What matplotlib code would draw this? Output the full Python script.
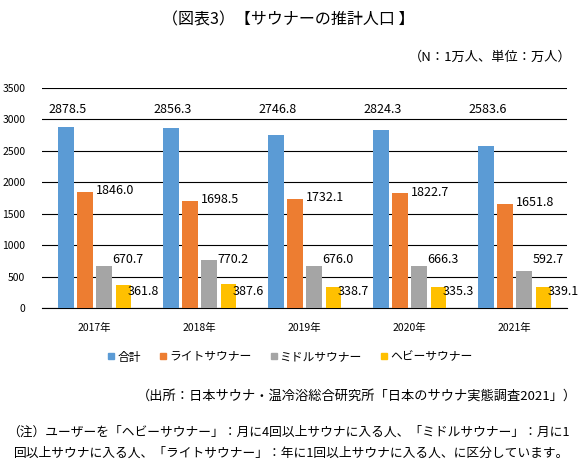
import matplotlib
matplotlib.use("Agg")
import matplotlib.pyplot as plt
from matplotlib.lines import Line2D
import numpy as np

plt.rcParams['font.family'] = ['Noto Sans CJK JP', 'DejaVu Sans']

years = ["2017年", "2018年", "2019年", "2020年", "2021年"]
series_names = ["合計", "ライトサウナー", "ミドルサウナー", "ヘビーサウナー"]
total = [2878.5, 2856.3, 2746.8, 2824.3, 2583.6]
light = [1846.0, 1698.5, 1732.1, 1822.7, 1651.8]
middle = [670.7, 770.2, 676.0, 666.3, 592.7]
heavy = [361.8, 387.6, 338.7, 335.3, 339.1]
yticks = [0, 500, 1000, 1500, 2000, 2500, 3000, 3500]

colors = ["#5B9BD5", "#ED7D31", "#A5A5A5", "#FFC000"]

W, H = 584, 475
fig = plt.figure(figsize=(W / 100, H / 100), dpi=100)
ax = fig.add_axes([42 / W, 1 - 308 / H, (567 - 42) / W, (308 - 88) / H])

x = np.arange(len(years))
step = 0.181
width = 0.143
all_series = [total, light, middle, heavy]
for k, (vals, c) in enumerate(zip(all_series, colors)):
    ax.bar(x + (k - 1.5) * step, vals, width, color=c, zorder=3)

ax.set_xlim(-0.5, len(years) - 0.5)
ax.set_ylim(0, 3500)
ax.set_yticks(yticks)
ax.set_yticklabels([str(v) for v in yticks], fontsize=7.5)
ax.set_xticks(x)
ax.set_xticklabels(years, fontsize=7.5)
ax.tick_params(axis='y', length=0, pad=12)
ax.tick_params(axis='x', length=0, pad=11)
ax.grid(axis='y', color='black', linewidth=0.8, zorder=0)
for s in ['left', 'right', 'top']:
    ax.spines[s].set_visible(False)
ax.spines['bottom'].set_color('black')
ax.spines['bottom'].set_linewidth(0.8)

lab_fs = 9
px = 0.72  # points per pixel
for i in range(len(years)):
    ax.annotate(f"{total[i]:.1f}", (x[i] - 1.5 * step, 3160), xytext=(2 * px, 0),
                textcoords='offset points', ha='center', va='center', fontsize=lab_fs)
    ax.annotate(f"{light[i]:.1f}", (x[i] - 0.5 * step + width / 2, light[i]),
                xytext=(3 * px, 1), textcoords='offset points', ha='left', va='center',
                fontsize=lab_fs)
    ax.annotate(f"{middle[i]:.1f}", (x[i] + 0.5 * step + width / 2, 770),
                xytext=(1 * px, 0), textcoords='offset points', ha='left', va='center',
                fontsize=lab_fs)
    ax.annotate(f"{heavy[i]:.1f}", (x[i] + 1.5 * step + width / 2, 258),
                xytext=(-3 * px, 0), textcoords='offset points', ha='left', va='center',
                fontsize=lab_fs, zorder=5)

handles = [Line2D([], [], marker='s', linestyle='none', markersize=5,
                  markerfacecolor=c, markeredgecolor=c) for c in colors]
fig.legend(handles, series_names, loc='center', bbox_to_anchor=(290 / W, 1 - 357 / H),
           ncol=4, frameon=False, fontsize=8.5, handlelength=0.6, handletextpad=0.2,
           columnspacing=1.6, borderpad=0)

fig.text(288 / W, 1 - 20 / H, "（図表3）【サウナーの推計人口 】", ha='center', va='center',
         fontsize=11.5)
fig.text(572 / W, 1 - 57 / H, "（N：1万人、単位：万人）", ha='right', va='center', fontsize=9.5)
fig.text(577 / W, 1 - 396 / H, "（出所：日本サウナ・温冷浴総合研究所「日本のサウナ実態調査2021」）",
         ha='right', va='center', fontsize=9.5)
fig.text(7 / W, 1 - 432 / H,
         "（注）ユーザーを「ヘビーサウナー」：月に4回以上サウナに入る人、「ミドルサウナー」：月に1",
         ha='left', va='center', fontsize=9.2)
fig.text(14 / W, 1 - 453 / H,
         "回以上サウナに入る人、「ライトサウナー」：年に1回以上サウナに入る人、に区分しています。",
         ha='left', va='center', fontsize=9.2)

fig.savefig("out.png", dpi=100)
